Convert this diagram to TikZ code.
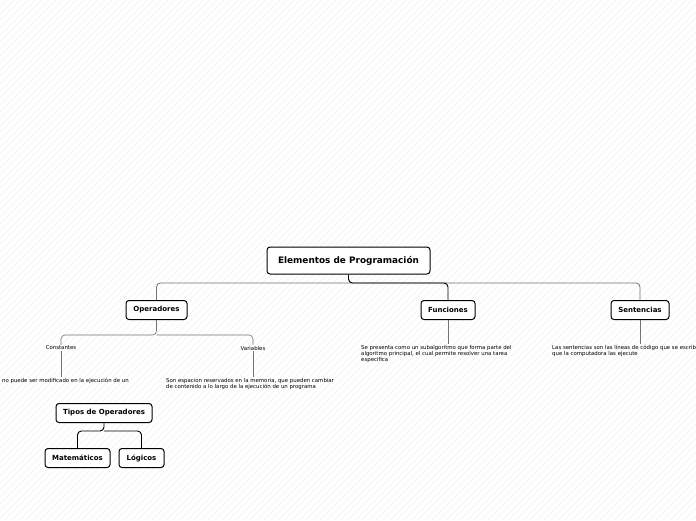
\documentclass[tikz,border=0pt]{standalone}
\usepackage{fontspec}
\setmainfont{DejaVu Sans}
\tikzset{
  topic/.style={draw=black, line width=1pt, rounded corners=3pt, fill=white,
    font=\bfseries\fontsize{7}{8}\selectfont, inner xsep=5pt, inner ysep=0pt,
    minimum height=19pt},
  label/.style={font=\fontsize{5.4}{6.2}\selectfont, inner sep=1pt},
  note/.style={label, align=left, anchor=north west},
  branch/.style={draw=black!55, line width=0.8pt, rounded corners=4pt},
  mainline/.style={draw=black, line width=0.9pt, rounded corners=4pt}
}
\begin{document}
\begin{tikzpicture}[x=1pt, y=-1pt]
  % Background
  \useasboundingbox (0,0) rectangle (696,520);
  \fill[white] (0,0) rectangle (696,520);
  \begin{scope}
    \clip (0,0) rectangle (696,520);
    \foreach \k in {0,7,...,1220}
      \draw[black!5, line width=0.4pt] (\k-520,520) -- (\k,0);
  \end{scope}

  % Main topic and branches
  \node[topic, font=\bfseries\fontsize{8.9}{10}\selectfont, minimum width=163pt, minimum height=27pt] (title) at (348.5,260.5) {Elementos de Programación};
  \node[topic, minimum width=61pt] (ops) at (156.5,310) {Operadores};
  \node[topic, minimum width=54pt] (fun) at (448,310) {Funciones};
  \node[topic, minimum width=58pt] (sen) at (640,310) {Sentencias};
  \coordinate (j1) at (348.5,283);
  \draw[branch] (j1) -| (ops.north);
  \draw[branch] (j1) -| (sen.north);
  \draw[mainline] (title.south) -- (j1) -| (fun.north);

  % Operadores
  \node[label] (cons) at (61,348) {Constantes};
  \node[label] (vars) at (253,348) {Variables};
  \coordinate (j2) at (156.5,335);
  \draw[branch, line width=0.6pt] (ops.south) -- (j2) -| (cons.north);
  \draw[branch, line width=0.6pt] (j2) -| (vars.north);
  \node[note] (consnote) at (1,377) {no puede ser modificado en la ejecución de un};
  \node[note] (varsnote) at (165,377) {Son espacion reservados en la memoria, que pueden cambiar\\de contenido a lo largo de la ejecución de un programa};
  \draw[branch, line width=0.6pt] (cons.south) -- (cons.south |- consnote.north);
  \draw[branch, line width=0.6pt] (vars.south) -- (vars.south |- varsnote.north);

  % Funciones and Sentencias
  \node[note] (funnote) at (360,344) {Se presenta como un subalgoritmo que forma parte del\\algoritmo principal, el cual permite resolver una tarea\\especifica};
  \node[note] (sennote) at (551,344) {Las sentencias son las líneas de código que se escrib\\que la computadora las ejecute};
  \draw[branch, line width=0.6pt] (fun.south) -- (fun.south |- funnote.north);
  \draw[branch, line width=0.6pt] (sen.south) -- (sen.south |- sennote.north);

  % Tipos de Operadores
  \node[topic, minimum width=96pt] (tipos) at (104,413) {Tipos de Operadores};
  \node[topic, minimum width=65pt] (mat) at (77.5,458) {Matemáticos};
  \node[topic, minimum width=45pt] (log) at (141.5,458) {Lógicos};
  \coordinate (j3) at (104,431);
  \draw[mainline] (tipos.south) -- (j3) -| (mat.north);
  \draw[mainline] (j3) -| (log.north);
\end{tikzpicture}
\end{document}
